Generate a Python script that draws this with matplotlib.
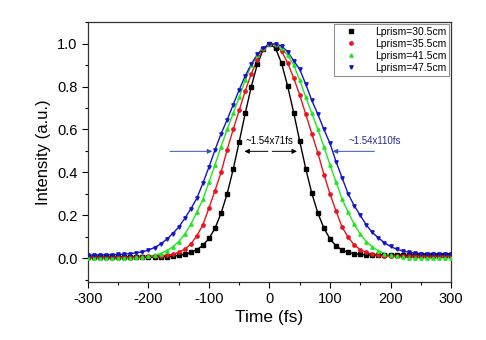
import matplotlib.pyplot as plt
import numpy as np

plt.rcParams['font.family'] = ['Liberation Sans', 'DejaVu Sans']
plt.rcParams['axes.unicode_minus'] = False

# delay axis (fs), 10 fs step
t = np.arange(-300, 301, 10)

# normalised autocorrelation traces for each prism separation
I_305 = [0.006, 0.005, 0.006, 0.004, 0.005, 0.006, 0.005, 0.004, 0.006, 0.005,
         0.005, 0.006, 0.007, 0.008, 0.010, 0.013, 0.018, 0.027, 0.040, 0.060,
         0.092, 0.140, 0.210, 0.300, 0.414, 0.543, 0.676, 0.800, 0.905, 0.975,
         1.000,
         0.978, 0.908, 0.802, 0.678, 0.545, 0.416, 0.302, 0.210, 0.140, 0.090,
         0.058, 0.038, 0.027, 0.021, 0.018, 0.016, 0.015, 0.016, 0.015, 0.014,
         0.016, 0.015, 0.014, 0.016, 0.015, 0.016, 0.014, 0.015, 0.016, 0.015]
I_355 = [0.007, 0.006, 0.007, 0.006, 0.008, 0.007, 0.006, 0.008, 0.007, 0.008,
         0.009, 0.010, 0.012, 0.014, 0.018, 0.028, 0.042, 0.066, 0.105, 0.155,
         0.235, 0.315, 0.400, 0.505, 0.600, 0.690, 0.780, 0.860, 0.925, 0.975,
         0.998,
         0.995, 0.965, 0.910, 0.840, 0.760, 0.670, 0.580, 0.490, 0.390, 0.300,
         0.220, 0.145, 0.098, 0.062, 0.040, 0.027, 0.018, 0.013, 0.011, 0.010,
         0.011, 0.010, 0.009, 0.010, 0.011, 0.010, 0.009, 0.010, 0.011, 0.010]
I_415 = [0.001, 0.000, 0.002, 0.001, 0.000, 0.002, 0.003, 0.002, 0.004, 0.006,
         0.009, 0.014, 0.022, 0.035, 0.053, 0.078, 0.112, 0.158, 0.215, 0.275,
         0.355, 0.435, 0.520, 0.600, 0.675, 0.750, 0.830, 0.900, 0.945, 0.978,
         0.997,
         0.997, 0.978, 0.945, 0.900, 0.830, 0.750, 0.675, 0.600, 0.520, 0.435,
         0.355, 0.275, 0.215, 0.158, 0.112, 0.078, 0.053, 0.035, 0.022, 0.014,
         0.009, 0.006, 0.003, 0.002, 0.001, 0.002, 0.000, 0.001, 0.002, 0.000]
I_475 = [0.015, 0.015, 0.016, 0.016, 0.017, 0.018, 0.019, 0.021, 0.025, 0.030,
         0.038, 0.050, 0.066, 0.088, 0.115, 0.145, 0.186, 0.230, 0.280, 0.350,
         0.425, 0.505, 0.580, 0.645, 0.715, 0.785, 0.850, 0.905, 0.950, 0.980,
         0.996,
         0.999, 0.988, 0.962, 0.920, 0.880, 0.810, 0.735, 0.670, 0.600, 0.535,
         0.450, 0.375, 0.300, 0.245, 0.200, 0.155, 0.120, 0.095, 0.072, 0.055,
         0.042, 0.034, 0.028, 0.024, 0.022, 0.021, 0.022, 0.021, 0.022, 0.021]

labels = ['Lprism=30.5cm', 'Lprism=35.5cm', 'Lprism=41.5cm', 'Lprism=47.5cm']
colors = ['black', '#e8141e', '#22e622', '#1414c8']
markers = ['s', 'o', '^', 'v']

fig = plt.figure(figsize=(4.86, 3.40), dpi=100)
ax = fig.add_axes([0.181, 0.171, 0.747, 0.764])

for I, lab, c, m in zip([I_305, I_355, I_415, I_475], labels, colors, markers):
    ax.plot(t, I, color=c, lw=1.0, zorder=2)
    ax.plot(t, I, ls='none', marker=m, ms=2.4, color=c, label=lab, zorder=3)

# FWHM markers
ax.annotate('', xy=(-46, 0.498), xytext=(2, 0.498),
            arrowprops=dict(arrowstyle='-|>', color='black', lw=0.7, mutation_scale=7))
ax.annotate('', xy=(50, 0.498), xytext=(0, 0.498),
            arrowprops=dict(arrowstyle='-|>', color='black', lw=0.7, mutation_scale=7))
ax.text(0, 0.548, '~1.54x71fs', fontsize=7, ha='center', va='center', color='black')

ax.annotate('', xy=(-90, 0.498), xytext=(-169, 0.498),
            arrowprops=dict(arrowstyle='-|>', color='#3050c0', lw=0.7, mutation_scale=7))
ax.annotate('', xy=(100, 0.498), xytext=(178, 0.498),
            arrowprops=dict(arrowstyle='-|>', color='#3050c0', lw=0.7, mutation_scale=7))
ax.text(174, 0.548, '~1.54x110fs', fontsize=7, ha='center', va='center', color='#2a2a9a')

ax.set_xlim(-300, 300)
ax.set_ylim(-0.11, 1.1)
ax.set_xticks(np.arange(-300, 301, 100))
ax.set_xticks(np.arange(-300, 301, 50), minor=True)
ax.set_yticks(np.arange(0, 1.01, 0.2))
ax.set_yticks(np.arange(-0.1, 1.1, 0.1), minor=True)
ax.yaxis.set_major_formatter(plt.FormatStrFormatter('%.1f'))
ax.tick_params(which='both', direction='out', labelsize=10.5, width=0.8)
ax.tick_params(which='major', length=4)
ax.tick_params(which='minor', length=2.5)
for s in ax.spines.values():
    s.set_linewidth(0.9)
    s.set_color('#333333')

ax.set_xlabel('Time (fs)', fontsize=12.5, labelpad=3)
ax.set_ylabel('Intensity (a.u.)', fontsize=12, labelpad=4)

leg = ax.legend(loc='upper right', fontsize=7.5, frameon=True, fancybox=False,
                borderaxespad=0.15, handletextpad=1.0, labelspacing=0.2,
                borderpad=0.3, markerscale=1.0, handlelength=2.6)
leg.get_frame().set_edgecolor('#777777')
leg.get_frame().set_linewidth(0.8)

fig.savefig('out.png', dpi=100)
